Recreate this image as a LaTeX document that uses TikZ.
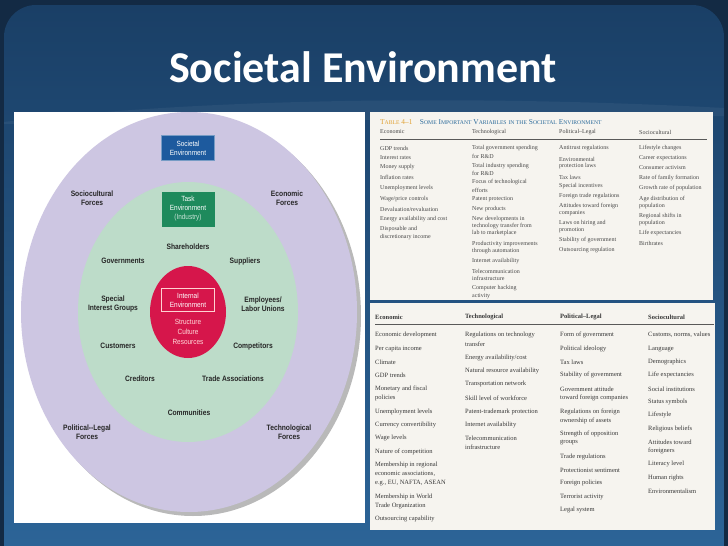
\documentclass[tikz,border=0pt]{standalone}
\usepackage{fontspec}
\setmainfont{Liberation Serif}
\newfontfamily\titlefont{Carlito}
\newfontfamily\diagfont[FakeStretch=0.86]{Liberation Sans}
\usepackage{xcolor}
\usetikzlibrary{positioning}

\definecolor{slidenavy}{HTML}{132A44}
\definecolor{panelTop}{HTML}{1A3F66}
\definecolor{panelBottom}{HTML}{2C6497}
\definecolor{ringpurple}{HTML}{CDC6E2}
\definecolor{ringgreen}{HTML}{BDDCC9}
\definecolor{corered}{HTML}{D6164B}
\definecolor{societalblue}{HTML}{1D5A9E}
\definecolor{taskgreen}{HTML}{1E8A5C}
\definecolor{paper}{HTML}{F6F4EF}
\definecolor{tabblue}{HTML}{2A6A9A}
\definecolor{taborange}{HTML}{E0A030}

\newcommand{\smc}[1]{{\fontsize{5.7pt}{6pt}\selectfont #1}}

\tikzset{
  titletext/.style={font=\titlefont\bfseries\fontsize{44pt}{48pt}\selectfont, text=white},
  force/.style={font=\diagfont\bfseries\fontsize{7.8pt}{9pt}\selectfont, align=center, text=black!85, inner sep=1pt},
  envbox/.style={minimum width=53pt, minimum height=25pt, inner sep=1pt, align=center, text=white,
    font=\diagfont\fontsize{7.5pt}{9pt}\selectfont},
  coretext/.style={align=center, text=pink!60, font=\diagfont\fontsize{7.5pt}{10pt}\selectfont},
  cellA/.style={anchor=west, inner sep=0pt, text=black!72, font=\fontsize{6pt}{7pt}\selectfont},
  cellB/.style={anchor=west, inner sep=0pt, text=black!78, font=\fontsize{6.5pt}{7.5pt}\selectfont},
}

\begin{document}
\begin{tikzpicture}[x=1pt,y=-1pt]
    \useasboundingbox (0,0) rectangle (728,546);

    % slide background
    \fill[slidenavy] (0,0) rectangle (728,546);
    \shade[top color=panelTop, bottom color=panelBottom, rounded corners=32pt]
      (4,546) |- (724,5) -- (724,546);
    \fill[white, opacity=.05] (4,122) .. controls (220,96) and (500,96) .. (724,108)
      -- (724,116) -- (4,124) -- cycle;

    % title
    \node[titletext] (title) at (363,67) {Societal Environment};

    % left figure
    \fill[white] (14,112) rectangle (365,523);
    \begin{scope}
      \clip (14,112) rectangle (365,523);
      \fill[black!50, opacity=.55] (193,316) ellipse [x radius=168pt, y radius=200pt];
      \fill[ringpurple] (189,312) ellipse [x radius=168pt, y radius=200pt];
    \end{scope}
    \fill[ringgreen] (188,312) ellipse [x radius=110pt, y radius=130pt];
    \fill[corered] (188,312) ellipse [x radius=38pt, y radius=46pt];

    \node[envbox, fill=societalblue, draw=societalblue!60] (societal) at (188,148) {Societal\\Environment};
    \node[envbox, fill=taskgreen, minimum height=35pt] (task) at (188,209)
      {Task\\Environment\\{\color{white!75!taskgreen}(Industry)}};
    \node[envbox, draw=pink!70, minimum height=23pt] (internal) at (188,300) {Internal\\Environment};
    \node[coretext] (resources) at (188,332) {Structure\\Culture\\Resources};

    \node[force] (sociocultural) at (92,198) {Sociocultural\\Forces};
    \node[force] (economic) at (287,198) {Economic\\Forces};
    \node[force] (shareholders) at (188,247) {Shareholders};
    \node[force] (governments) at (123,261) {Governments};
    \node[force] (suppliers) at (245,261) {Suppliers};
    \node[force] (special) at (113,304) {Special\\Interest Groups};
    \node[force] (employees) at (263,304) {Employees/\\Labor Unions};
    \node[force] (customers) at (118,346) {Customers};
    \node[force] (competitors) at (253,346) {Competitors};
    \node[force] (creditors) at (140,379) {Creditors};
    \node[force] (trade) at (233,379) {Trade Associations};
    \node[force] (communities) at (189,413) {Communities};
    \node[force] (political) at (87,432) {Political--Legal\\Forces};
    \node[force] (technological) at (289,432) {Technological\\Forces};

    % top table
    \fill[paper] (370,112) rectangle (713,300);
    \node[anchor=west, inner sep=0pt, text=tabblue, font=\fontsize{7.4pt}{8pt}\selectfont] (tabtitle) at (380,122)
      {{\color{taborange}T\smc{ABLE} 4--1}\quad S\smc{OME} I\smc{MPORTANT} V\smc{ARIABLES} \smc{IN THE} S\smc{OCIETAL} E\smc{NVIRONMENT}};
    \node[cellA] (topheadA) at (380,132) {Economic};
    \node[cellA] (topheadB) at (472,132) {Technological};
    \node[cellA] (topheadC) at (559,132) {Political–Legal};
    \node[cellA] (topheadD) at (639,132) {Sociocultural};
    \draw[black!65, line width=.6pt] (380,139) -- (707,139);

    \foreach \y/\t [count=\i] in {148/GDP trends, 158/Interest rates, 167/Money supply,
        177/Inflation rates, 188/Unemployment levels, 199/{Wage/price controls},
        209/{Devaluation/revaluation}, 219/Energy availability and cost,
        229/Disposable and, 237/discretionary income}
      \node[cellA] (topEco\i) at (380,\y) {\t};
    \foreach \y/\t [count=\i] in {148/Total government spending, 156/for R\&D,
        166/Total industry spending, 173/for R\&D, 182/Focus of technological,
        190/efforts, 199/Patent protection, 209/New products, 219/New developments in,
        226/technology transfer from, 233/lab to marketplace,
        244/Productivity improvements, 251/through automation, 261/Internet availability,
        271/Telecommunication, 278/infrastructure, 288/Computer hacking, 296/activity}
      \node[cellA] (topTech\i) at (472,\y) {\t};
    \foreach \y/\t [count=\i] in {148/Antitrust regulations, 159/Environmental,
        166/protection laws, 177/Tax laws, 186/Special incentives,
        196/Foreign trade regulations, 206/Attitudes toward foreign, 213/companies,
        223/Laws on hiring and, 230/promotion, 240/Stability of government,
        250/Outsourcing regulation}
      \node[cellA] (topPol\i) at (559,\y) {\t};
    \foreach \y/\t [count=\i] in {148/Lifestyle changes, 158/Career expectations,
        168/Consumer activism, 178/Rate of family formation, 188/Growth rate of population,
        199/Age distribution of, 206/population, 216/Regional shifts in, 223/population,
        233/Life expectancies, 243/Birthrates}
      \node[cellA] (topSoc\i) at (639,\y) {\t};

    % bottom table
    \fill[paper] (370,303) rectangle (715,530);
    \node[cellB, font=\bfseries\fontsize{6.5pt}{7.5pt}\selectfont] (botheadA) at (375,317) {Economic};
    \node[cellB, font=\bfseries\fontsize{6.5pt}{7.5pt}\selectfont] (botheadB) at (465,317) {Technological};
    \node[cellB, font=\bfseries\fontsize{6.5pt}{7.5pt}\selectfont] (botheadC) at (560,317) {Political–Legal};
    \node[cellB, font=\bfseries\fontsize{6.5pt}{7.5pt}\selectfont] (botheadD) at (648,317) {Sociocultural};
    \draw[black!65, line width=.6pt] (375,324) -- (714,324);

    \foreach \y/\t [count=\i] in {335/Economic development, 349/Per capita income,
        362/Climate, 375/GDP trends, 389/Monetary and fiscal, 398/policies,
        412/Unemployment levels, 425/Currency convertibility, 438/Wage levels,
        452/Nature of competition, 465/Membership in regional,
        474/{economic associations,}, 483/{e.g., EU, NAFTA, ASEAN},
        497/Membership in World, 506/Trade Organization, 519/Outsourcing capability}
      \node[cellB] (botEco\i) at (375,\y) {\t};
    \foreach \y/\t [count=\i] in {335/Regulations on technology, 344/transfer,
        358/{Energy availability/cost}, 371/Natural resource availability,
        384/Transportation network, 398/Skill level of workforce,
        412/Patent-trademark protection, 425/Internet availability,
        438/Telecommunication, 447/infrastructure}
      \node[cellB] (botTech\i) at (465,\y) {\t};
    \foreach \y/\t [count=\i] in {335/Form of government, 349/Political ideology,
        362/Tax laws, 375/Stability of government, 389/Government attitude,
        398/toward foreign companies, 412/Regulations on foreign, 421/ownership of assets,
        434/Strength of opposition, 443/groups, 457/Trade regulations,
        470/Protectionist sentiment, 483/Foreign policies, 497/Terrorist activity,
        510/Legal system}
      \node[cellB] (botPol\i) at (560,\y) {\t};
    \foreach \y/\t [count=\i] in {335/{Customs, norms, values}, 349/Language,
        362/Demographics, 375/Life expectancies, 389/Social institutions,
        402/Status symbols, 415/Lifestyle, 429/Religious beliefs, 442/Attitudes toward,
        451/foreigners, 464/Literacy level, 478/Human rights, 491/Environmentalism}
      \node[cellB] (botSoc\i) at (648,\y) {\t};
  \end{tikzpicture}
\end{document}
